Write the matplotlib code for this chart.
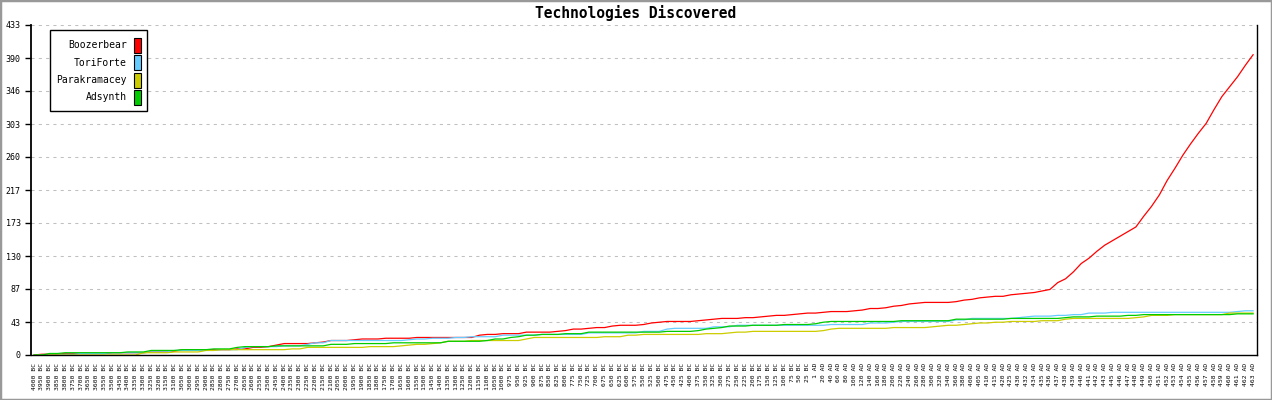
import matplotlib
matplotlib.use("Agg")
import matplotlib.pyplot as plt
from matplotlib.patches import Rectangle
import numpy as np

# game turns shown on the x axis (negative = BC)
years = [-4000, -3950, -3900, -3850, -3800, -3750, -3700, -3650, -3600, -3550,
         -3500, -3450, -3400, -3350, -3300, -3250, -3200, -3150, -3100, -3050,
         -3000, -2950, -2900, -2850, -2800, -2750, -2700, -2650, -2600, -2550,
         -2500, -2450, -2400, -2350, -2300, -2250, -2200, -2150, -2100, -2050,
         -2000, -1950, -1900, -1850, -1800, -1750, -1700, -1650, -1600, -1550,
         -1500, -1450, -1400, -1350, -1300, -1250, -1200, -1150, -1100, -1050,
         -1000, -975, -950, -925, -900, -875, -850, -825, -800, -775,
         -750, -725, -700, -675, -650, -625, -600, -575, -550, -525,
         -500, -475, -450, -425, -400, -375, -350, -325, -300, -275,
         -250, -225, -200, -175, -150, -125, -100, -75, -50, -25,
         1, 20, 40, 60, 80, 100, 120, 140, 160, 180,
         200, 220, 240, 260, 280, 300, 320, 340, 360, 380,
         400, 405, 410, 415, 420, 425, 430, 432, 434, 435,
         436, 437, 438, 439, 440, 441, 442, 443, 445, 446,
         447, 448, 449, 450, 451, 452, 453, 454, 455, 456,
         457, 458, 459, 460, 461, 462, 463]

boozerbear = [0, 1, 1, 1, 2, 2, 2, 2, 2, 2,
              3, 3, 3, 3, 3, 4, 4, 4, 5, 7,
              7, 7, 7, 7, 7, 7, 8, 8, 10, 10,
              11, 13, 15, 15, 15, 15, 16, 17, 19, 19,
              19, 20, 21, 21, 21, 22, 22, 22, 22, 23,
              23, 23, 23, 23, 23, 23, 23, 26, 27, 27,
              28, 28, 28, 30, 30, 30, 30, 31, 32, 34,
              34, 35, 36, 36, 38, 39, 39, 39, 40, 42,
              43, 44, 44, 44, 44, 45, 46, 47, 48, 48,
              48, 49, 49, 50, 51, 52, 52, 53, 54, 55,
              55, 56, 57, 57, 57, 58, 59, 61, 61, 62,
              64, 65, 67, 68, 69, 69, 69, 69, 70, 72,
              73, 75, 76, 77, 77, 79, 80, 81, 82, 84,
              86, 95, 100, 109, 120, 127, 136, 144, 150, 156,
              162, 168, 182, 195, 210, 229, 245, 262, 277, 291,
              304, 322, 339, 352, 365, 380, 394]

toriforte = [0, 0, 0, 0, 1, 1, 2, 2, 2, 2,
             3, 3, 3, 3, 3, 4, 4, 4, 6, 6,
             6, 6, 6, 6, 7, 7, 7, 10, 11, 11,
             11, 11, 12, 12, 12, 14, 16, 16, 19, 19,
             19, 19, 19, 19, 19, 19, 19, 19, 20, 21,
             21, 22, 22, 22, 23, 23, 24, 24, 24, 24,
             26, 26, 26, 26, 26, 27, 27, 27, 27, 27,
             27, 29, 29, 29, 29, 29, 29, 29, 31, 31,
             31, 34, 35, 35, 35, 35, 35, 37, 37, 37,
             39, 39, 39, 39, 39, 39, 39, 39, 39, 39,
             39, 39, 40, 40, 40, 40, 40, 42, 42, 42,
             43, 44, 44, 44, 44, 44, 44, 44, 46, 46,
             48, 48, 48, 48, 48, 48, 49, 50, 51, 51,
             51, 52, 52, 53, 53, 55, 55, 55, 56, 56,
             56, 56, 56, 56, 56, 56, 56, 56, 56, 56,
             56, 56, 56, 56, 57, 58, 58]

parakramacey = [0, 0, 0, 0, 0, 0, 0, 0, 0, 0,
                0, 0, 0, 0, 3, 3, 3, 3, 4, 4,
                4, 4, 6, 6, 7, 7, 7, 7, 7, 7,
                7, 7, 7, 8, 8, 10, 10, 10, 10, 10,
                10, 10, 10, 11, 11, 11, 11, 12, 13, 14,
                14, 15, 16, 18, 18, 18, 19, 19, 19, 19,
                19, 19, 19, 21, 23, 23, 23, 23, 23, 23,
                23, 23, 23, 24, 24, 24, 26, 26, 27, 27,
                27, 27, 27, 27, 27, 27, 28, 28, 28, 29,
                30, 30, 31, 31, 31, 31, 31, 31, 31, 31,
                31, 32, 34, 35, 35, 35, 35, 35, 35, 35,
                36, 36, 36, 36, 36, 37, 38, 39, 39, 40,
                41, 42, 42, 43, 43, 44, 44, 44, 44, 45,
                45, 45, 47, 48, 48, 48, 48, 48, 48, 48,
                48, 49, 50, 52, 52, 52, 53, 53, 53, 53,
                53, 53, 53, 55, 55, 55, 55]

adsynth = [0, 0, 2, 2, 3, 3, 3, 3, 3, 3,
           3, 3, 4, 4, 4, 6, 6, 6, 6, 7,
           7, 7, 7, 8, 8, 8, 10, 11, 11, 11,
           11, 12, 12, 12, 12, 12, 12, 12, 14, 14,
           14, 15, 15, 15, 15, 15, 16, 16, 16, 16,
           16, 16, 16, 18, 18, 18, 18, 18, 19, 21,
           21, 23, 24, 26, 26, 27, 27, 27, 28, 28,
           28, 30, 30, 30, 30, 30, 30, 30, 30, 30,
           30, 31, 31, 31, 31, 32, 34, 35, 36, 38,
           38, 38, 39, 39, 39, 39, 40, 40, 40, 40,
           41, 43, 44, 44, 44, 44, 44, 44, 44, 44,
           44, 45, 45, 45, 45, 45, 45, 45, 47, 47,
           47, 47, 47, 47, 47, 48, 48, 48, 48, 48,
           48, 48, 49, 50, 50, 50, 51, 51, 51, 51,
           52, 52, 53, 53, 53, 53, 53, 53, 53, 53,
           53, 53, 53, 53, 54, 54, 54]

names = ["Boozerbear", "ToriForte", "Parakramacey", "Adsynth"]
colors = ["#ff0000", "#66ccff", "#cccc00", "#00cc00"]
ytick_labels = ["0", "43", "87", "130", "173", "217", "260", "303", "346", "390", "433"]

mono = "DejaVu Sans Mono"
W, H = 1272, 400

fig = plt.figure(figsize=(W / 100, H / 100), dpi=100)
fig.patch.set_facecolor("white")
ax = fig.add_axes([31 / W, 1 - 355 / H, (1257 - 31) / W, (355 - 25) / H])

x = np.arange(len(years))
for vals, c in zip([boozerbear, toriforte, parakramacey, adsynth], colors):
    ax.plot(x, vals, color=c, lw=0.9, solid_joinstyle="miter")

ax.set_xlim(-0.4, len(years) - 0.5)
ax.set_ylim(0, 433)

ax.set_yticks(np.linspace(0, 433, 11))
ax.set_yticklabels(ytick_labels, family=mono, fontsize=6)
ax.tick_params(axis="y", direction="out", length=4.5, width=1, pad=3)

xlabels = [f"{abs(y)} BC" if y < 0 else f"{y} AD" for y in years]
ax.set_xticks(x)
ax.set_xticklabels(xlabels, rotation=90, family=mono, fontsize=4.6)
ax.tick_params(axis="x", length=0, pad=5.5)

ax.yaxis.grid(True, color="#c0c0c0", linestyle=(0, (3, 4)), lw=0.75)
ax.set_axisbelow(True)
ax.spines["top"].set_visible(False)
ax.spines["left"].set_linewidth(1.3)
ax.spines["bottom"].set_linewidth(1)
ax.spines["right"].set_linewidth(1)

fig.text(0.5, 1 - 13 / H, "Technologies Discovered", ha="center", va="center",
         family=mono, fontweight="bold", fontsize=10.5)

# legend box drawn by hand
fig.add_artist(Rectangle((50 / W, 1 - 111 / H), 96.7 / W, 81 / H, transform=fig.transFigure,
                         facecolor="white", edgecolor="black", lw=1, zorder=5))
for i, (n, c) in enumerate(zip(names, colors)):
    yc = 45 + i * 17.5
    fig.text(127 / W, 1 - yc / H, n, ha="right", va="center", family=mono, fontsize=7, zorder=6)
    fig.add_artist(Rectangle((134.3 / W, 1 - (yc + 7.5) / H), 6.3 / W, 15 / H,
                             transform=fig.transFigure, facecolor=c, edgecolor="black",
                             lw=0.8, zorder=6))

# grey frame around the whole picture
fig.add_artist(Rectangle((0, 0), 1, 1, transform=fig.transFigure, fill=False,
                         edgecolor="#999999", lw=2.5, zorder=10))

fig.savefig("out.png", dpi=100)
